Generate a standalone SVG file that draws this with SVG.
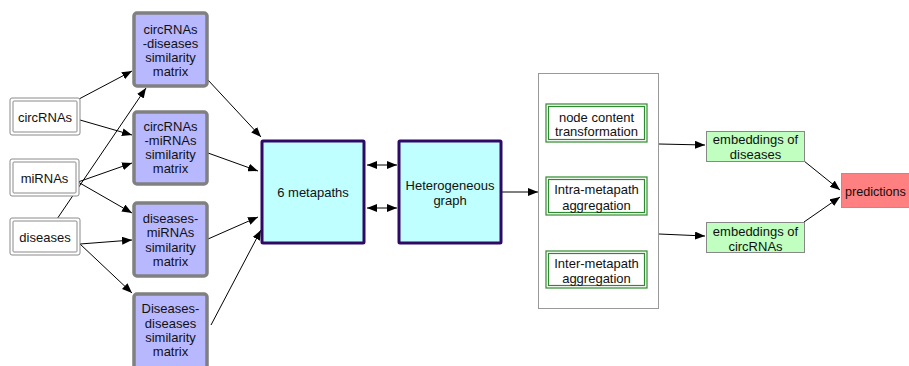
<svg xmlns="http://www.w3.org/2000/svg" width="909" height="366" viewBox="0 0 909 366">
<defs>
<marker id="ah" markerWidth="10" markerHeight="8" refX="10" refY="4" orient="auto" markerUnits="userSpaceOnUse">
<path d="M0,0 L10,4 L0,8 Z" fill="#000"/>
</marker>
<marker id="as" markerWidth="10" markerHeight="8" refX="0" refY="4" orient="auto" markerUnits="userSpaceOnUse">
<path d="M10,0 L0,4 L10,8 Z" fill="#000"/>
</marker>
<style>
text{font-family:"Liberation Sans",Arial,sans-serif;font-size:13px;fill:#111;text-anchor:middle}
.in{fill:#fff;stroke:#8a8a8a;stroke-width:1}
.sim{fill:#b8b8ff;stroke:#808080;stroke-width:3.5}
.cy{fill:#c0ffff;stroke:#2e0a66;stroke-width:3}
.grp{fill:#fff;stroke:#999;stroke-width:1}
.gr{fill:#fff;stroke:#2e8a2e;stroke-width:1.2}
.emb{fill:#c0ffc0;stroke:#888;stroke-width:1}
.pred{fill:#ff8080;stroke:#999;stroke-width:1}
.c{fill:none;stroke:#000;stroke-width:1;marker-end:url(#ah)}
</style>
</defs>
<g id="connectors">
<line class="c" x1="79" y1="99" x2="132" y2="71"/>
<line class="c" x1="80" y1="120" x2="132" y2="135"/>
<line class="c" x1="78" y1="182" x2="132" y2="163"/>
<line class="c" x1="78" y1="182" x2="132" y2="213"/>
<line class="c" x1="57" y1="219" x2="146" y2="88"/>
<line class="c" x1="80" y1="244" x2="132" y2="240"/>
<line class="c" x1="80" y1="244" x2="132" y2="293"/>
<line class="c" x1="208" y1="80" x2="261" y2="137"/>
<line class="c" x1="208" y1="153" x2="258" y2="171"/>
<line class="c" x1="208" y1="239" x2="258" y2="217"/>
<line class="c" x1="211" y1="325" x2="261" y2="230"/>
<line class="c" style="marker-start:url(#as)" x1="367" y1="165" x2="397" y2="165"/>
<line class="c" style="marker-start:url(#as)" x1="367" y1="208" x2="397" y2="208"/>
<line class="c" x1="502" y1="192" x2="538" y2="192"/>
<line class="c" x1="659" y1="144" x2="705" y2="145"/>
<line class="c" x1="659" y1="234" x2="705" y2="236"/>
<line class="c" x1="804" y1="161" x2="840" y2="190"/>
<line class="c" x1="804" y1="222" x2="840" y2="197"/>
</g>
<g id="n-circRNAs">
<rect class="in" x="10" y="98" width="70" height="37" rx="2"/>
<rect class="in" x="13" y="101" width="64" height="31" rx="1"/>
<text x="45" y="122">circRNAs</text>
</g>
<g id="n-miRNAs">
<rect class="in" x="10" y="159" width="69" height="37" rx="2"/>
<rect class="in" x="13" y="162" width="63" height="31" rx="1"/>
<text x="44.5" y="183">miRNAs</text>
</g>
<g id="n-diseases">
<rect class="in" x="10" y="218" width="70" height="37" rx="2"/>
<rect class="in" x="13" y="221" width="64" height="31" rx="1"/>
<text x="45" y="242">diseases</text>
</g>
<g id="n-sim1">
<rect class="sim" x="134" y="13" width="73" height="73" rx="3"/>
<text x="170.5" y="34">circRNAs</text>
<text x="170.5" y="48">-diseases</text>
<text x="170.5" y="62">similarity</text>
<text x="170.5" y="76">matrix</text>
</g>
<g id="n-sim2">
<rect class="sim" x="134" y="112" width="73" height="72" rx="3"/>
<text x="170.5" y="131">circRNAs</text>
<text x="170.5" y="145">-miRNAs</text>
<text x="170.5" y="159">similarity</text>
<text x="170.5" y="173">matrix</text>
</g>
<g id="n-sim3">
<rect class="sim" x="134" y="203" width="73" height="73" rx="3"/>
<text x="170.5" y="223">diseases-</text>
<text x="170.5" y="237">miRNAs</text>
<text x="170.5" y="251.5">similarity</text>
<text x="170.5" y="266">matrix</text>
</g>
<g id="n-sim4">
<rect class="sim" x="134" y="294" width="73" height="80" rx="3"/>
<text x="170.5" y="313">Diseases-</text>
<text x="170.5" y="327.5">diseases</text>
<text x="170.5" y="342">similarity</text>
<text x="170.5" y="356">matrix</text>
</g>
<g id="n-metapaths">
<rect class="cy" x="262" y="141" width="102" height="102" rx="1"/>
<text x="313" y="197">6 metapaths</text>
</g>
<g id="n-hetero">
<rect class="cy" x="399" y="141" width="102" height="102" rx="1"/>
<text x="450" y="190">Heterogeneous</text>
<text x="450" y="205">graph</text>
</g>
<g id="n-group">
<rect class="grp" x="538.5" y="73.5" width="120" height="235"/>
</g>
<g id="n-nct">
<rect class="gr" x="546" y="104" width="101" height="38"/>
<rect class="gr" x="548.5" y="106.5" width="96" height="33"/>
<text x="596.5" y="121.5">node content</text>
<text x="596.5" y="135.5">transformation</text>
</g>
<g id="n-intra">
<rect class="gr" x="546" y="177" width="101" height="38"/>
<rect class="gr" x="548.5" y="179.5" width="96" height="33"/>
<text x="596.5" y="193.5">Intra-metapath</text>
<text x="596.5" y="209.5">aggregation</text>
</g>
<g id="n-inter">
<rect class="gr" x="546" y="251" width="101" height="37"/>
<rect class="gr" x="548.5" y="253.5" width="96" height="32"/>
<text x="596.5" y="267.5">Inter-metapath</text>
<text x="596.5" y="282.5">aggregation</text>
</g>
<g id="n-embd">
<rect class="emb" x="706.5" y="131.5" width="98" height="30"/>
<text x="755.5" y="143.5">embeddings of</text>
<text x="755.5" y="158.5">diseases</text>
</g>
<g id="n-embc">
<rect class="emb" x="706.5" y="222.5" width="98" height="30"/>
<text x="755.5" y="235.5">embeddings of</text>
<text x="755.5" y="250.5">circRNAs</text>
</g>
<g id="n-pred">
<rect class="pred" x="841.5" y="173.5" width="80" height="34"/>
<text x="845" y="195.5" style="text-anchor:start;font-size:12.6px">predictions</text>
</g>
</svg>
